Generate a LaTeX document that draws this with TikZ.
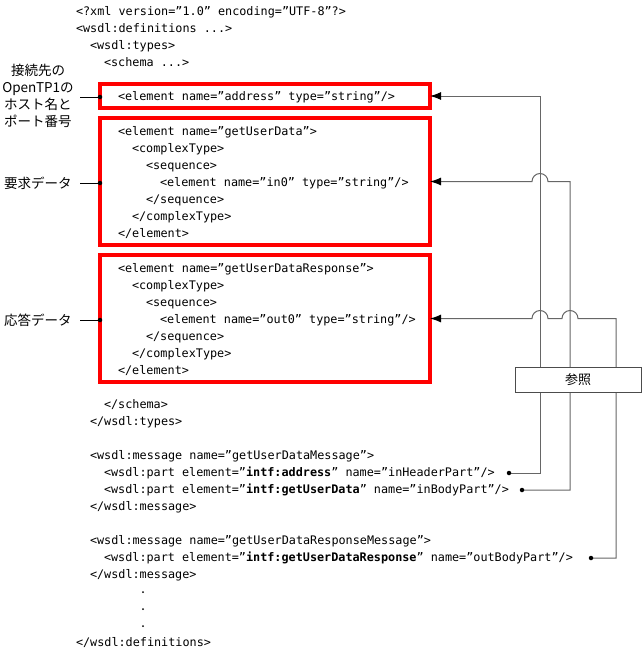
\documentclass[tikz,border=0pt]{standalone}
\usepackage{fontspec}
\setmainfont{DejaVu Sans Mono}
\newfontfamily\jp{Noto Sans CJK JP}
\usetikzlibrary{arrows.meta}
\begin{document}
\begin{tikzpicture}[x=1pt,y=-1pt,
  every node/.style={inner sep=0pt, outer sep=0pt},
  code/.style={anchor=west, text height=9pt, text depth=3pt, font=\fontsize{11.8}{16}\selectfont},
  jlab/.style={font=\jp\fontsize{13.5}{17}\selectfont, align=center},
  redbox/.style={draw=red, line width=3.5pt, minimum width=330pt},
  refline/.style={draw=black!60, line width=1pt},
  arr/.style={-{Latex[length=11pt,width=8pt,color=black]}},
  dot/.style={circle, fill=black, minimum size=4.5pt},
  lab/.style={draw=black!70, line width=0.8pt}
]
\useasboundingbox (0,0) rectangle (644,656);

% code lines
\node[code] (c1) at (76,12) {<?xml version=”1.0” encoding=”UTF-8”?>};
\node[code] (c2) at (76,29) {<wsdl:definitions ...>};
\node[code] (c3) at (90,46) {<wsdl:types>};
\node[code] (c4) at (104,63) {<schema ...>};

% red boxes
\node[redbox, minimum height=24pt] (b1) at (265,96) {};
\node[redbox, minimum height=127pt] (b2) at (265,181.5) {};
\node[redbox, minimum height=127pt] (b3) at (265,318.5) {};

\node[code] (a1) at (118,97) {<element name=”address” type=”string”/>};

\node[code] (g1) at (118,132) {<element name=”getUserData”>};
\node[code] (g2) at (132,149) {<complexType>};
\node[code] (g3) at (146,166) {<sequence>};
\node[code] (g4) at (160,183) {<element name=”in0” type=”string”/>};
\node[code] (g5) at (146,200) {</sequence>};
\node[code] (g6) at (132,217) {</complexType>};
\node[code] (g7) at (118,234) {</element>};

\node[code] (r1) at (118,269) {<element name=”getUserDataResponse”>};
\node[code] (r2) at (132,286) {<complexType>};
\node[code] (r3) at (146,303) {<sequence>};
\node[code] (r4) at (160,320) {<element name=”out0” type=”string”/>};
\node[code] (r5) at (146,337) {</sequence>};
\node[code] (r6) at (132,354) {</complexType>};
\node[code] (r7) at (118,371) {</element>};

\node[code] (s1) at (104,405) {</schema>};
\node[code] (s2) at (90,422) {</wsdl:types>};

\node[code] (m1) at (90,456) {<wsdl:message name=”getUserDataMessage”>};
\node[code] (m2) at (104,473) {<wsdl:part element=”\textbf{intf:address}” name=”inHeaderPart”/>};
\node[code] (m3) at (104,490) {<wsdl:part element=”\textbf{intf:getUserData}” name=”inBodyPart”/>};
\node[code] (m4) at (90,507) {</wsdl:message>};

\node[code] (n1) at (90,541) {<wsdl:message name=”getUserDataResponseMessage”>};
\node[code] (n2) at (104,558) {<wsdl:part element=”\textbf{intf:getUserDataResponse}” name=”outBodyPart”/>};
\node[code] (n3) at (90,575) {</wsdl:message>};

\fill (143,592) circle (1pt);
\fill (143,609) circle (1pt);
\fill (143,626) circle (1pt);

\node[code] (e1) at (76,643) {</wsdl:definitions>};

% left labels
\node[jlab] (l1) at (38,95.5) {接続先の\\OpenTP1の\\ホスト名と\\ポート番号};
\node[jlab] (l2) at (38,183) {要求データ};
\node[jlab] (l3) at (38,320) {応答データ};

\coordinate (l1e) at (80,97);
\coordinate (l2e) at (80,183);
\coordinate (l3e) at (80,320);
\draw[line width=0.8pt] (l1e) -- (b1.west |- l1e) node[dot] {};
\draw[line width=0.8pt] (l2e) -- (b2.west |- l2e) node[dot] {};
\draw[line width=0.8pt] (l3e) -- (b3.west |- l3e) node[dot] {};

% reference dots
\coordinate (p1) at (509,473);
\coordinate (p2) at (522,490);
\coordinate (p3) at (591,558);

% reference lines
\draw[refline, arr] (p1) -| (540,96) -- (b1.east);
\draw[refline, arr] (p2) -| (570,181.5) -- (548,181.5) arc[start angle=0, end angle=180, radius=8pt] -- (b2.east);
\draw[refline, arr] (p3) -| (616,318.5) -- (578,318.5) arc[start angle=0, end angle=180, radius=8pt] -- (548,318.5) arc[start angle=0, end angle=180, radius=8pt] -- (b3.east);

\node[dot] at (p1) {};
\node[dot] at (p2) {};
\node[dot] at (p3) {};

% reference label box
\node[lab, fill=white, minimum width=126pt, minimum height=25pt, font=\jp\fontsize{13}{16}\selectfont] (ref) at (578,379.5) {参照};
\end{tikzpicture}
\end{document}
